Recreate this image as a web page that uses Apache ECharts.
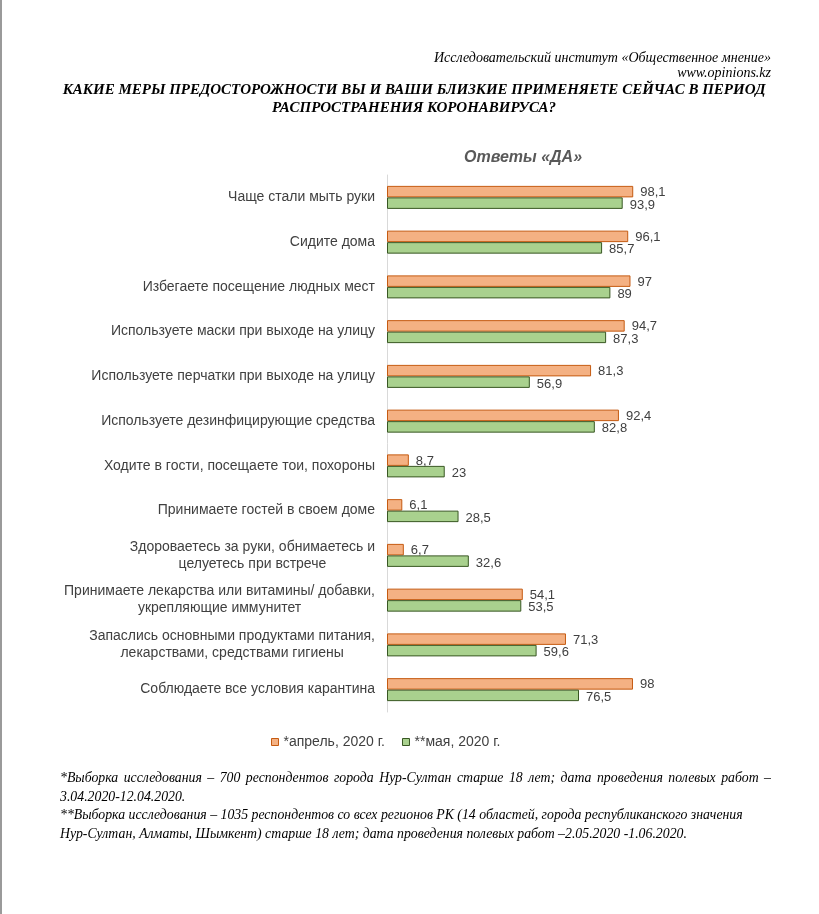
<!DOCTYPE html>
<html><head><meta charset="utf-8">
<script src="https://cdn.jsdelivr.net/npm/echarts@6/dist/echarts.min.js"></script>
<style>html,body{margin:0;padding:0;background:#fff}#c{width:819px;height:914px}</style>
</head><body><div id="c"></div>
<script>
const categories = [
  "Чаще стали мыть руки",
  "Сидите дома",
  "Избегаете посещение людных мест",
  "Используете маски при выходе на улицу",
  "Используете перчатки при выходе на улицу",
  "Используете дезинфицирующие средства",
  "Ходите в гости, посещаете тои, похороны",
  "Принимаете гостей в своем доме",
  "Здороваетесь за руки, обнимаетесь и\nцелуетесь при встрече",
  "Принимаете лекарства или витамины/ добавки,\nукрепляющие иммунитет",
  "Запаслись основными продуктами питания,\nлекарствами, средствами гигиены",
  "Соблюдаете все условия карантина"
];
const april = [98.1, 96.1, 97, 94.7, 81.3, 92.4, 8.7, 6.1, 6.7, 54.1, 71.3, 98];
const may = [93.9, 85.7, 89, 87.3, 56.9, 82.8, 23, 28.5, 32.6, 53.5, 59.6, 76.5];
const seriesNames = ["*апрель, 2020 г.", "**мая, 2020 г."];
const footnotes = [
  "*Выборка исследования – 700 респондентов города Нур-Султан старше 18 лет; дата проведения полевых работ –",
  "3.04.2020-12.04.2020.",
  "**Выборка исследования – 1035 респондентов со всех регионов РК (14 областей, города республиканского значения",
  "Нур-Султан, Алматы, Шымкент) старше 18 лет; дата проведения полевых работ –2.05.2020 -1.06.2020."
];

const chart = echarts.init(document.getElementById('c'));
const fmt = p => String(p.value).replace('.', ',');
const serif = '"Liberation Serif", "Times New Roman", serif';
const sans = '"Liberation Sans", Arial, sans-serif';
const txt = (x, y, text, font, align, fill) => ({type:'text', style:{x, y, text, font, fill: fill || '#000', textAlign: align, textVerticalAlign:'middle'}});
const footY = [778, 797, 815, 834];
const footFont = 'italic 13.8px ' + serif;

// justified first footnote line (like the source document)
const ctx = document.createElement('canvas').getContext('2d');
ctx.font = footFont;
function justified(line, x0, x1, y) {
  const words = line.split(' ');
  const widths = words.map(w => ctx.measureText(w).width);
  const total = widths.reduce((a, b) => a + b, 0);
  const gap = (x1 - x0 - total) / (words.length - 1);
  let x = x0;
  return words.map((w, i) => { const el = txt(x, y, w, footFont, 'left'); x += widths[i] + gap; return el; });
}

const footGraphics = justified(footnotes[0], 60, 771, footY[0])
  .concat(footnotes.slice(1).map((t, i) => txt(60, footY[i + 1], t, footFont, 'left')));

chart.setOption({
  backgroundColor: '#fff',
  animation: false,
  graphic: [
    {type:'rect', shape:{x:0,y:0,width:2,height:914}, style:{fill:'#9a9a9a'}},
    txt(771, 58, 'Исследовательский институт «Общественное мнение»', 'italic 14px '+serif, 'right'),
    txt(771, 73, 'www.opinions.kz', 'italic 14px '+serif, 'right'),
    txt(414, 90, 'КАКИЕ МЕРЫ ПРЕДОСТОРОЖНОСТИ ВЫ И ВАШИ БЛИЗКИЕ ПРИМЕНЯЕТЕ СЕЙЧАС В ПЕРИОД', 'italic bold 15px '+serif, 'center'),
    txt(414, 108, 'РАСПРОСТРАНЕНИЯ КОРОНАВИРУСА?', 'italic bold 15px '+serif, 'center'),
    txt(523, 158, 'Ответы «ДА»', 'italic bold 16px '+sans, 'center', '#595959')
  ].concat(footGraphics),
  legend: {
    left: 266, top: 730,
    icon: 'rect',
    itemWidth: 7, itemHeight: 7, itemGap: 17,
    itemStyle: {borderWidth: 1},
    textStyle: {color:'#404040', fontSize:14, fontFamily: sans},
    data: seriesNames
  },
  grid: {left: 387, top: 175, width: 251, height: 537, containLabel: false},
  xAxis: {type:'value', min:0, max:100, show:false},
  yAxis: {
    type:'category', inverse:true, data: categories,
    axisLine:{show:true, lineStyle:{color:'#d9d9d9', width:1}},
    axisTick:{show:false},
    axisLabel:{
      margin: 12, color:'#404040', fontSize:14, fontFamily: sans,
      formatter: v => v.split('\n').map(s => '{c|' + s + '}').join('\n'),
      rich: {c: {align:'center', color:'#404040', fontSize:14, fontFamily: sans, lineHeight:17}}
    }
  },
  series: [
    {name: seriesNames[0], type:'bar', data: april, barWidth: 11.5, barGap: '0%',
     itemStyle:{color:'#F4B183', borderColor:'#C55A11', borderWidth:1},
     label:{show:true, position:'right', distance:7, offset:[0,1], formatter: fmt, color:'#404040', fontSize:13, fontFamily: sans}},
    {name: seriesNames[1], type:'bar', data: may, barWidth: 11.5, barGap: '0%',
     itemStyle:{color:'#A9D18E', borderColor:'#385723', borderWidth:1},
     label:{show:true, position:'right', distance:7, offset:[0,2], formatter: fmt, color:'#404040', fontSize:13, fontFamily: sans}}
  ]
});
</script></body></html>
